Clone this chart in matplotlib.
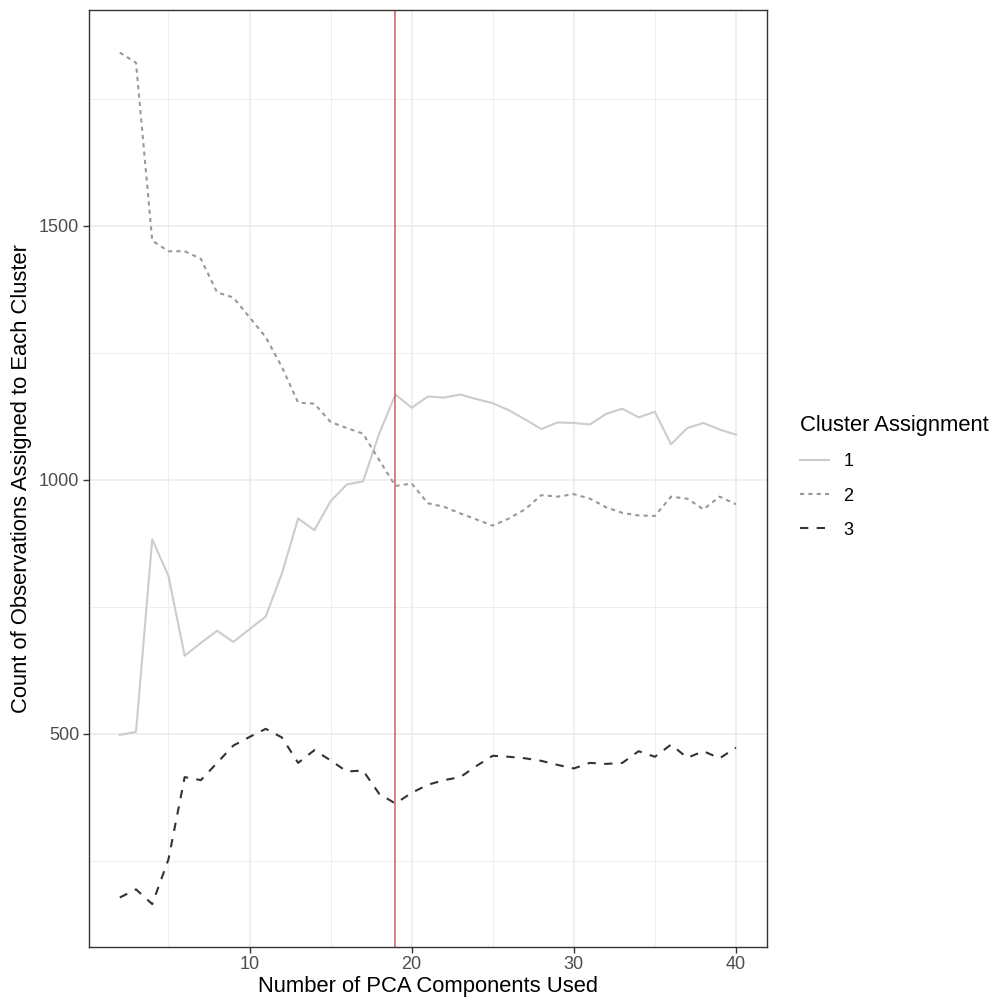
import matplotlib

matplotlib.use("Agg")

import matplotlib.pyplot as plt
from matplotlib.lines import Line2D
from matplotlib.ticker import MultipleLocator

plt.rcParams["font.family"] = ["Liberation Sans", "DejaVu Sans"]

# number of PCA components used (x)
n_components = list(range(2, 41))

# counts per cluster
cluster_1 = [498, 504, 883, 811, 654, 679, 703, 681, 706, 731,
             816, 924, 901, 958, 991, 997, 1091, 1168, 1142, 1164,
             1162, 1168, 1159, 1151, 1137, 1119, 1100, 1113, 1112, 1109,
             1130, 1140, 1123, 1134, 1070, 1102, 1112, 1099, 1089]
cluster_2 = [1841, 1821, 1471, 1450, 1450, 1435, 1369, 1359, 1320, 1281,
             1222, 1152, 1150, 1114, 1102, 1091, 1039, 988, 993, 954,
             947, 934, 922, 910, 924, 942, 970, 967, 972, 963,
             946, 935, 930, 929, 967, 963, 942, 967, 952]
cluster_3 = [178, 194, 165, 253, 415, 409, 443, 477, 494, 510,
             493, 443, 468, 448, 426, 428, 382, 363, 384, 400,
             409, 415, 437, 457, 455, 452, 447, 439, 432, 443,
             441, 443, 466, 455, 479, 453, 466, 452, 473]
cluster_labels = ["1", "2", "3"]
chosen_components = 19

fig = plt.figure(figsize=(9.98, 10.02), dpi=100)
ax = fig.add_axes([89 / 998, 1 - 946.7 / 1002, (766.7 - 89) / 998, (946.7 - 10) / 1002])

styles = [
    dict(color="#cccccc", linestyle="-"),
    dict(color="#999999", linestyle=(0, (2, 2))),
    dict(color="#333333", linestyle=(0, (4, 4))),
]
series = [cluster_1, cluster_2, cluster_3]

for values, style in zip(series, styles):
    ax.plot(n_components, values, linewidth=1.5, **style)

ax.axvline(chosen_components, color="#cd5c5c", linewidth=1.2, alpha=0.9)

# ggplot-like default expansion
x_span = n_components[-1] - n_components[0]
all_vals = cluster_1 + cluster_2 + cluster_3
y_span = max(all_vals) - min(all_vals)
ax.set_xlim(n_components[0] - 0.05 * x_span, n_components[-1] + 0.05 * x_span)
ax.set_ylim(min(all_vals) - 0.05 * y_span, max(all_vals) + 0.05 * y_span)

ax.xaxis.set_major_locator(MultipleLocator(10))
ax.xaxis.set_minor_locator(MultipleLocator(5))
ax.yaxis.set_major_locator(MultipleLocator(500))
ax.yaxis.set_minor_locator(MultipleLocator(250))

ax.grid(True, which="major", color="#ebebeb", linewidth=1.1)
ax.grid(True, which="minor", color="#ebebeb", linewidth=0.6)
ax.set_axisbelow(True)

for spine in ax.spines.values():
    spine.set_color("#333333")
    spine.set_linewidth(1.0)

ax.tick_params(which="major", length=4, width=1.0, color="#333333",
               labelsize=13, labelcolor="#4d4d4d", pad=3)
ax.tick_params(which="minor", length=0)

ax.set_xlabel("Number of PCA Components Used", fontsize=15.8, labelpad=2)
ax.set_ylabel("Count of Observations Assigned to Each Cluster", fontsize=15.8, labelpad=5)

handles = [Line2D([], [], linewidth=1.5, **style) for style in styles]
legend = fig.legend(
    handles,
    cluster_labels,
    title="Cluster Assignment",
    loc="center left",
    bbox_to_anchor=(784 / 998, 1 - 477 / 1002),
    frameon=False,
    fontsize=13,
    title_fontsize=15.8,
    handlelength=1.6,
    labelspacing=0.95,
    handletextpad=0.8,
)
legend._legend_box.align = "left"

fig.savefig("out.png", dpi=100)
